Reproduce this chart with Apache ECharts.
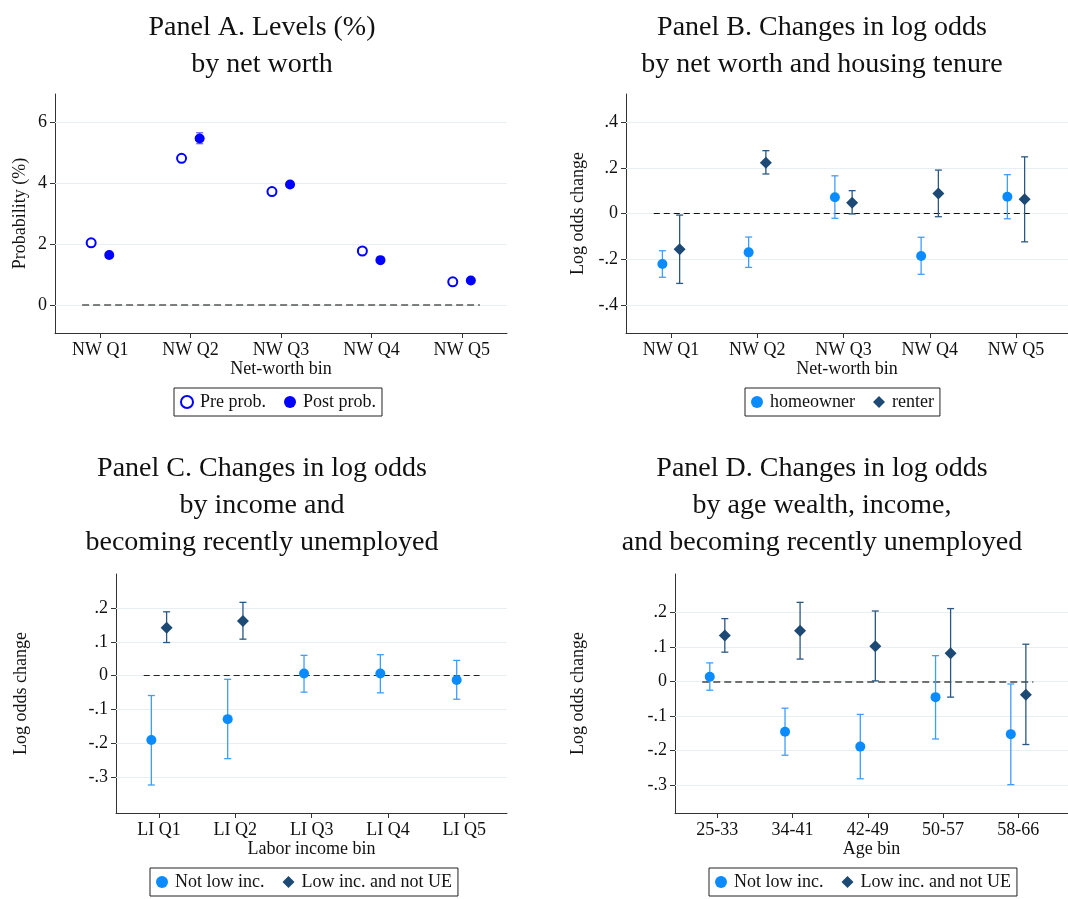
<!DOCTYPE html>
<html>
<head>
<meta charset="utf-8">
<script src="https://cdn.jsdelivr.net/npm/echarts@6/dist/echarts.min.js"></script>
<style>
  html, body { margin: 0; padding: 0; background: #fff; }
  #root { width: 1068px; height: 899px; }
</style>
</head>
<body>
<div id="root"></div>
<script>
// ---- data ----
const nwBins = ['NW Q1', 'NW Q2', 'NW Q3', 'NW Q4', 'NW Q5'];
const liBins = ['LI Q1', 'LI Q2', 'LI Q3', 'LI Q4', 'LI Q5'];
const ageBins = ['25-33', '34-41', '42-49', '50-57', '58-66'];

// Panel A: levels (%)
const preProb = [2.04, 4.81, 3.72, 1.77, 0.76];
const postProb = [1.64, 5.46, 3.95, 1.47, 0.80];
const postLo = [1.60, 5.29, 3.86, 1.43, 0.77];
const postHi = [1.68, 5.65, 4.04, 1.51, 0.83];

// Panel B: log odds by tenure
const ownB = [-0.220, -0.169, 0.072, -0.185, 0.074];
const ownBLo = [-0.278, -0.235, -0.020, -0.265, -0.022];
const ownBHi = [-0.162, -0.102, 0.166, -0.103, 0.171];
const rentB = [-0.156, 0.223, 0.048, 0.089, 0.063];
const rentBLo = [-0.305, 0.174, -0.001, -0.013, -0.123];
const rentBHi = [-0.006, 0.276, 0.101, 0.191, 0.249];

// Panel C: log odds by labor income
const notLowC = [-0.191, -0.129, 0.006, 0.006, -0.013];
const notLowCLo = [-0.324, -0.246, -0.049, -0.051, -0.070];
const notLowCHi = [-0.059, -0.011, 0.060, 0.062, 0.045];
const lowC = [0.142, 0.162];
const lowCLo = [0.098, 0.108];
const lowCHi = [0.189, 0.217];

// Panel D: log odds by age
const notLowD = [0.014, -0.145, -0.188, -0.045, -0.152];
const notLowDLo = [-0.025, -0.213, -0.281, -0.166, -0.298];
const notLowDHi = [0.054, -0.077, -0.095, 0.075, -0.007];
const lowD = [0.133, 0.147, 0.102, 0.082, -0.038];
const lowDLo = [0.085, 0.065, 0.002, -0.045, -0.182];
const lowDHi = [0.182, 0.229, 0.204, 0.211, 0.108];

// tick values and labels
const yTicksA = [0, 2, 4, 6];
const yLabelsA = ['0', '2', '4', '6'];
const yTicksB = [-0.4, -0.2, 0, 0.2, 0.4];
const yLabelsB = ['-.4', '-.2', '0', '.2', '.4'];
const yTicksCD = [-0.3, -0.2, -0.1, 0, 0.1, 0.2];
const yLabelsCD = ['-.3', '-.2', '-.1', '0', '.1', '.2'];
const xTicks = [1, 2, 3, 4, 5];

// ---- styles ----
const FONT = '"Liberation Serif", "Times New Roman", serif';
const BLUE = '#0000ff';
const LIGHT = '#0a8bff';
const LIGHT_CI = '#3f9dff';
const DARK = '#1d4a74';
const DARK_CI = '#2b5883';
const OFF = 0.1;

const pts = (vals, off) => vals.map((v, i) => [i + 1 + off, v]);
const cis = (lo, hi, off) => lo.map((l, i) => [i + 1 + off, l, hi[i]]);

function renderCI(params, api) {
  const x = api.value(0);
  const a = api.coord([x, api.value(1)]);
  const b = api.coord([x, api.value(2)]);
  const w = 3.5;
  const style = { stroke: api.visual('color'), lineWidth: 1.3 };
  return {
    type: 'group',
    children: [
      { type: 'line', shape: { x1: a[0], y1: a[1], x2: b[0], y2: b[1] }, style },
      { type: 'line', shape: { x1: a[0] - w, y1: a[1], x2: a[0] + w, y2: a[1] }, style },
      { type: 'line', shape: { x1: b[0] - w, y1: b[1], x2: b[0] + w, y2: b[1] }, style }
    ]
  };
}

const pick = (ticks, labels) => v => {
  const i = ticks.findIndex(t => Math.abs(t - v) < 1e-9);
  return i < 0 ? '' : labels[i];
};

const grids = [
  { left: 55, top: 94, width: 452, height: 239 },
  { left: 626, top: 94, width: 442, height: 239 },
  { left: 116, top: 574, width: 391, height: 239 },
  { left: 675, top: 574, width: 393, height: 239 }
];

const axisLine = { show: true, onZero: false, lineStyle: { color: '#333', width: 1 } };
const axisTick = { show: true, length: 5, inside: false, lineStyle: { color: '#333' } };

function xAxis(idx, cats, name, min, max) {
  return {
    type: 'value', gridIndex: idx, min, max,
    name, nameLocation: 'middle', nameGap: 27,
    nameTextStyle: { fontFamily: FONT, fontSize: 18, color: '#111' },
    axisLine, splitLine: { show: false },
    axisTick: { ...axisTick, customValues: xTicks },
    axisLabel: {
      customValues: xTicks, margin: 8, fontFamily: FONT, fontSize: 18, color: '#111',
      formatter: v => cats[Math.round(v) - 1]
    }
  };
}

function yAxis(idx, name, min, max, ticks, labels, gap) {
  return {
    type: 'value', gridIndex: idx, min, max,
    name, nameLocation: 'middle', nameGap: gap, nameRotate: 90,
    nameTextStyle: { fontFamily: FONT, fontSize: 18, color: '#111' },
    axisLine, splitLine: { show: false },
    axisTick: { ...axisTick, customValues: ticks },
    axisLabel: {
      customValues: ticks, margin: 8, fontFamily: FONT, fontSize: 18, color: '#111',
      formatter: pick(ticks, labels)
    }
  };
}

// light gridlines, then the dashed zero line on top of them
function refLines(idx, ticks, color, dash, width) {
  const grid = ticks.map(t => ({ yAxis: t }));
  const zero = [
    { coord: [0.8, 0], lineStyle: { color, width, type: dash } },
    { coord: [5.2, 0] }
  ];
  return {
    type: 'scatter', name: 'ref' + idx, xAxisIndex: idx, yAxisIndex: idx,
    data: [], silent: true,
    markLine: {
      silent: true, symbol: 'none', animation: false, label: { show: false },
      lineStyle: { color: '#e6eff1', width: 1, type: 'solid' },
      data: [...grid, zero]
    }
  };
}

function ciSeries(idx, name, data, color) {
  return {
    type: 'custom', name, xAxisIndex: idx, yAxisIndex: idx, silent: true, z: 9,
    itemStyle: { color }, renderItem: renderCI, data
  };
}

function dotSeries(idx, name, data, symbol, size, style) {
  return {
    type: 'scatter', name, xAxisIndex: idx, yAxisIndex: idx, z: 10,
    symbol, symbolSize: size, itemStyle: { opacity: 1, ...style }, data
  };
}

const legendBase = {
  orient: 'horizontal', borderColor: '#222', borderWidth: 1,
  padding: [5, 6, 5, 6], itemGap: 18, itemWidth: 12, itemHeight: 12,
  textStyle: { fontFamily: FONT, fontSize: 18, color: '#111', padding: [0, 0, 0, 2] },
  selectedMode: false
};

const titleBase = {
  textAlign: 'center',
  textStyle: { fontFamily: FONT, fontSize: 28, fontWeight: 'normal', color: '#111', lineHeight: 37 }
};

const option = {
  animation: false,
  backgroundColor: '#fff',
  title: [
    { ...titleBase, text: 'Panel A. Levels (%)\nby net worth', left: 257, top: 4 },
    { ...titleBase, text: 'Panel B. Changes in log odds\nby net worth and housing tenure', left: 817, top: 4 },
    { ...titleBase, text: 'Panel C. Changes in log odds\nby income and\nbecoming recently unemployed', left: 257, top: 445 },
    { ...titleBase, text: 'Panel D. Changes in log odds\nby age wealth, income,\nand becoming recently unemployed', left: 817, top: 445 }
  ],
  legend: [
    { ...legendBase, left: 174, top: 388, data: [{ name: 'Pre prob.', icon: 'emptyCircle' }, { name: 'Post prob.', icon: 'circle' }] },
    { ...legendBase, left: 745, top: 388, data: [{ name: 'homeowner', icon: 'circle' }, { name: 'renter', icon: 'diamond' }] },
    { ...legendBase, left: 150, top: 868, data: [{ name: 'Not low inc.', icon: 'circle' }, { name: 'Low inc. and not UE', icon: 'diamond' }] },
    { ...legendBase, left: 709, top: 868, data: [{ name: 'Not low inc.', icon: 'circle' }, { name: 'Low inc. and not UE', icon: 'diamond' }] }
  ],
  grid: grids,
  xAxis: [
    xAxis(0, nwBins, 'Net-worth bin', 0.5, 5.5),
    xAxis(1, nwBins, 'Net-worth bin', 0.478, 5.603),
    xAxis(2, liBins, 'Labor income bin', 0.437, 5.559),
    xAxis(3, ageBins, 'Age bin', 0.438, 5.66)
  ],
  yAxis: [
    yAxis(0, 'Probability (%)', -0.92, 6.92, yTicksA, yLabelsA, 26),
    yAxis(1, 'Log odds change', -0.522, 0.524, yTicksB, yLabelsB, 39),
    yAxis(2, 'Log odds change', -0.407, 0.301, yTicksCD, yLabelsCD, 86),
    yAxis(3, 'Log odds change', -0.380, 0.311, yTicksCD, yLabelsCD, 88)
  ],
  series: [
    // Panel A
    refLines(0, yTicksA, '#555', [7, 4], 1.5),
    ciSeries(0, 'ciPost', cis(postLo, postHi, OFF), '#6b6bff'),
    dotSeries(0, 'Pre prob.', pts(preProb, -OFF), 'emptyCircle', 9, { color: BLUE, borderColor: BLUE, borderWidth: 1.6 }),
    dotSeries(0, 'Post prob.', pts(postProb, OFF), 'circle', 10, { color: BLUE }),
    // Panel B
    refLines(1, yTicksB, '#111', [6, 4], 1.2),
    ciSeries(1, 'ciOwn', cis(ownBLo, ownBHi, -OFF), LIGHT_CI),
    ciSeries(1, 'ciRent', cis(rentBLo, rentBHi, OFF), DARK_CI),
    dotSeries(1, 'homeowner', pts(ownB, -OFF), 'circle', 10, { color: LIGHT }),
    dotSeries(1, 'renter', pts(rentB, OFF), 'diamond', 12, { color: DARK }),
    // Panel C
    refLines(2, yTicksCD, '#222', [6, 4], 1.2),
    ciSeries(2, 'ciNotLowC', cis(notLowCLo, notLowCHi, -OFF), LIGHT_CI),
    ciSeries(2, 'ciLowC', cis(lowCLo, lowCHi, OFF), DARK_CI),
    dotSeries(2, 'Not low inc.', pts(notLowC, -OFF), 'circle', 10, { color: LIGHT }),
    dotSeries(2, 'Low inc. and not UE', pts(lowC, OFF), 'diamond', 12, { color: DARK }),
    // Panel D
    refLines(3, yTicksCD, '#444', [7, 4], 1.5),
    ciSeries(3, 'ciNotLowD', cis(notLowDLo, notLowDHi, -OFF), LIGHT_CI),
    ciSeries(3, 'ciLowD', cis(lowDLo, lowDHi, OFF), DARK_CI),
    dotSeries(3, 'Not low inc.', pts(notLowD, -OFF), 'circle', 10, { color: LIGHT }),
    dotSeries(3, 'Low inc. and not UE', pts(lowD, OFF), 'diamond', 12, { color: DARK })
  ]
};

const myChart = echarts.init(document.getElementById('root'));
myChart.setOption(option);
</script>
</body>
</html>
